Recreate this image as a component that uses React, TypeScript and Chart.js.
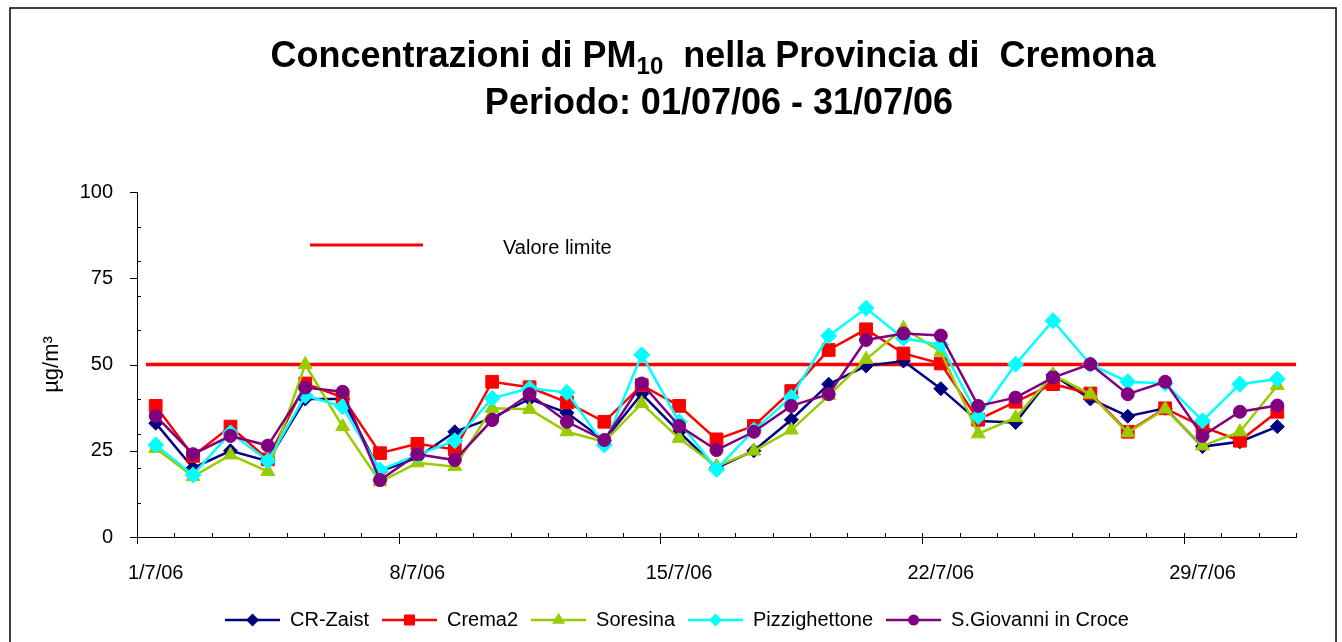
import React, { useEffect, useRef } from 'react';
import { Chart, registerables } from 'chart.js';

Chart.register(...registerables);

const FONT = '"Liberation Sans", Arial, Helvetica, sans-serif';

const DAYS = [
  '1/7/06', '2/7/06', '3/7/06', '4/7/06', '5/7/06', '6/7/06', '7/7/06',
  '8/7/06', '9/7/06', '10/7/06', '11/7/06', '12/7/06', '13/7/06', '14/7/06',
  '15/7/06', '16/7/06', '17/7/06', '18/7/06', '19/7/06', '20/7/06', '21/7/06',
  '22/7/06', '23/7/06', '24/7/06', '25/7/06', '26/7/06', '27/7/06', '28/7/06',
  '29/7/06', '30/7/06', '31/7/06',
];

const CR_ZAIST = [
  33, 20, 25, 22, 40, 40, 19, 23, 30.5, 34.5, 40, 36, 28, 41.5, 30.5, 20,
  25, 34, 44.3, 49.6, 51, 43, 33.6, 33.2, 47, 40, 35, 37.3, 26.2, 27.6, 32,
];
const CREMA2 = [
  38, 23.5, 32, 22.5, 44.5, 40.5, 24.3, 27, 25.4, 45, 43.4, 39, 33.4, 44, 38, 28.3,
  32.2, 42.3, 54.2, 60.2, 53.2, 50.3, 34, 39.2, 44.3, 41.6, 30.5, 37.3, 32, 27.9, 36.3,
];
const SORESINA = [
  25.7, 17.5, 23.8, 19, 50, 32, 16, 21.5, 20.4, 37.3, 37, 30.5, 27.6, 38.7, 28.6, 20.5,
  24.9, 31, 41, 51.5, 60.5, 53.7, 29.9, 34.6, 47, 41.4, 30.2, 37.1, 26.4, 30.5, 43.9,
];
const PIZZIGHETTONE = [
  26.7, 18, 30.2, 22.1, 41, 37.8, 19.4, 23.8, 27.9, 40.2, 43.1, 41.9, 26.7, 52.8, 33.4, 19.6,
  31, 40.5, 58.3, 66.3, 57.6, 55.7, 34.9, 50.1, 62.7, 50, 45, 44.5, 33.7, 44.3, 45.8,
];
const S_GIOVANNI = [
  35.1, 24, 29.3, 26.5, 43.3, 42.1, 16.5, 24, 22.3, 33.9, 41.4, 33.4, 28.1, 44.5, 32.2, 25.2,
  30.5, 38, 41.4, 57.1, 59, 58.4, 38, 40.4, 46.2, 50.1, 41.4, 45, 29.3, 36.3, 38.1,
];

const SERIES_NAMES = ['CR-Zaist', 'Crema2', 'Soresina', 'Pizzighettone', 'S.Giovanni in Croce'];
const SERIES_COLORS = ['#000080', '#FF0000', '#99CC00', '#00FFFF', '#800080'];
const SERIES_STYLES = ['rectRot', 'rect', 'triangle', 'rectRot', 'circle'];

const LIMIT = 50;
const Y_MIN = 0;
const Y_MAX = 100;
const Y_STEP = 25;
const Y_MINOR_STEP = 10;
const LABEL_EVERY = 7;

const TITLE_1A = 'Concentrazioni di PM';
const TITLE_1SUB = '10';
const TITLE_1B = '  nella Provincia di  Cremona';
const TITLE_2 = 'Periodo: 01/07/06 - 31/07/06';
const Y_LABEL = 'µg/m³';
const LIMIT_LABEL = 'Valore limite';

function makeIcon(color: string, style: string): HTMLCanvasElement {
  const c = document.createElement('canvas');
  c.width = 55;
  c.height = 16;
  const g = c.getContext('2d')!;
  const cx = 27.5;
  const cy = 8;
  g.strokeStyle = color;
  g.fillStyle = color;
  g.lineWidth = 2.5;
  g.beginPath();
  g.moveTo(0, cy);
  g.lineTo(55, cy);
  g.stroke();
  g.beginPath();
  if (style === 'rectRot') {
    const r = 6.5;
    g.moveTo(cx, cy - r);
    g.lineTo(cx + r, cy);
    g.lineTo(cx, cy + r);
    g.lineTo(cx - r, cy);
    g.closePath();
  } else if (style === 'rect') {
    g.rect(cx - 5.5, cy - 5.5, 11, 11);
  } else if (style === 'triangle') {
    const r = 7.5;
    g.moveTo(cx, cy - r);
    g.lineTo(cx + r * 0.866, cy + r / 2);
    g.lineTo(cx - r * 0.866, cy + r / 2);
    g.closePath();
  } else {
    g.arc(cx, cy, 5.5, 0, Math.PI * 2);
  }
  g.fill();
  return c;
}

const decorPlugin = {
  id: 'decor',
  beforeDatasetsDraw(chart: any) {
    const { ctx, chartArea } = chart;
    const ys = chart.scales.y;
    const y = ys.getPixelForValue(LIMIT);
    ctx.save();
    ctx.strokeStyle = '#FF0000';
    ctx.lineWidth = 3.5;
    ctx.beginPath();
    ctx.moveTo(chartArea.left + 9, y);
    ctx.lineTo(chartArea.right, y);
    ctx.stroke();
    ctx.restore();
  },
  afterDraw(chart: any) {
    const { ctx, chartArea } = chart;
    const xs = chart.scales.x;
    const ys = chart.scales.y;
    ctx.save();
    ctx.strokeStyle = '#000';
    ctx.lineWidth = 1.5;
    ctx.strokeRect(10, 8, 1326, 700);

    ctx.lineWidth = 1;
    ctx.beginPath();
    const step = xs.getPixelForValue(1) - xs.getPixelForValue(0);
    const x0 = xs.getPixelForValue(0) - step / 2;
    const bottom = chartArea.bottom;
    for (let i = 0; i <= DAYS.length; i++) {
      const px = Math.round(x0 + i * step) + 0.5;
      const major = i % LABEL_EVERY === 0;
      ctx.moveTo(px, bottom - 4);
      ctx.lineTo(px, bottom + (major ? 7 : 0));
    }
    const left = chartArea.left;
    for (let v = Y_MIN; v <= Y_MAX; v += Y_STEP) {
      const py = Math.round(ys.getPixelForValue(v)) + 0.5;
      ctx.moveTo(left - 7, py);
      ctx.lineTo(left, py);
    }
    for (let v = Y_MIN; v <= Y_MAX; v += Y_MINOR_STEP) {
      if (v % Y_STEP === 0) continue;
      const py = Math.round(ys.getPixelForValue(v)) + 0.5;
      ctx.moveTo(left, py);
      ctx.lineTo(left + 4, py);
    }
    ctx.stroke();

    ctx.fillStyle = '#000';
    ctx.textBaseline = 'alphabetic';
    ctx.textAlign = 'left';
    const big = `bold 36px ${FONT}`;
    const small = `bold 24px ${FONT}`;
    ctx.font = big;
    const wA = ctx.measureText(TITLE_1A).width;
    const wB = ctx.measureText(TITLE_1B).width;
    ctx.font = small;
    const wS = ctx.measureText(TITLE_1SUB).width;
    const total = wA + wS + wB;
    let tx = 713 - total / 2;
    ctx.font = big;
    ctx.fillText(TITLE_1A, tx, 67);
    tx += wA;
    ctx.font = small;
    ctx.fillText(TITLE_1SUB, tx, 74);
    tx += wS;
    ctx.font = big;
    ctx.fillText(TITLE_1B, tx, 67);
    ctx.textAlign = 'center';
    ctx.fillText(TITLE_2, 719, 114);

    ctx.strokeStyle = '#FF0000';
    ctx.lineWidth = 3;
    ctx.beginPath();
    ctx.moveTo(310, 245);
    ctx.lineTo(423, 245);
    ctx.stroke();
    ctx.font = `20px ${FONT}`;
    ctx.textAlign = 'left';
    ctx.textBaseline = 'middle';
    ctx.fillText(LIMIT_LABEL, 503, 248);
    ctx.restore();
  },
};

export default function App() {
  const ref = useRef<HTMLCanvasElement>(null);
  useEffect(() => {
    Chart.defaults.font.family = FONT;
    const seriesData = [CR_ZAIST, CREMA2, SORESINA, PIZZIGHETTONE, S_GIOVANNI];
    const icons = SERIES_NAMES.map((_, i) => makeIcon(SERIES_COLORS[i], SERIES_STYLES[i]));
    const datasets = SERIES_NAMES.map((name, i) => ({
      label: name,
      data: seriesData[i],
      borderColor: SERIES_COLORS[i],
      backgroundColor: SERIES_COLORS[i],
      pointBackgroundColor: SERIES_COLORS[i],
      pointBorderColor: SERIES_COLORS[i],
      pointStyle: SERIES_STYLES[i],
      pointRadius: [7, 9, 8, 8, 6.5][i],
      pointBorderWidth: 1,
      borderWidth: 2.5,
      tension: 0,
      order: SERIES_NAMES.length - i,
    }));
    const chart = new Chart(ref.current!, {
      type: 'line',
      data: { labels: DAYS, datasets },
      plugins: [decorPlugin],
      options: {
        responsive: false,
        animation: false,
        events: [],
        layout: { padding: { left: 58, right: 46, top: 192, bottom: 2 } },
        plugins: {
          title: { display: false },
          tooltip: { enabled: false },
          legend: {
            position: 'bottom',
            labels: {
              usePointStyle: true,
              pointStyleWidth: 55,
              padding: 13,
              color: '#000',
              font: { family: FONT, size: 20 },
              generateLabels: () =>
                SERIES_NAMES.map((name, i) => ({
                  text: name,
                  pointStyle: icons[i],
                  fillStyle: SERIES_COLORS[i],
                  strokeStyle: SERIES_COLORS[i],
                  lineWidth: 0,
                  hidden: false,
                  datasetIndex: i,
                })),
            },
          },
        },
        scales: {
          x: {
            type: 'category',
            offset: true,
            grid: { display: false, offset: true },
            border: { display: true, color: '#000', width: 1 },
            ticks: {
              autoSkip: false,
              maxRotation: 0,
              minRotation: 0,
              padding: 16,
              color: '#000',
              font: { family: FONT, size: 20 },
              callback: (_v: any, i: number) => (i % LABEL_EVERY === 0 ? DAYS[i] : ''),
            },
            afterFit: (s: any) => {
              s.height = 60;
            },
          },
          y: {
            min: Y_MIN,
            max: Y_MAX,
            grid: { display: false },
            border: { display: true, color: '#000', width: 1 },
            ticks: {
              stepSize: Y_STEP,
              padding: 16,
              color: '#000',
              font: { family: FONT, size: 20 },
            },
            title: {
              display: true,
              text: Y_LABEL,
              color: '#000',
              font: { family: FONT, size: 22 },
              padding: { top: -19, bottom: 0 },
            },
            afterFit: (s: any) => {
              s.width = 79;
            },
          },
        },
      },
    } as any);
    return () => chart.destroy();
  }, []);
  return (
    <div
      style={{
        position: 'fixed',
        left: 0,
        top: 0,
        width: 1342,
        height: 642,
        background: '#fff',
        overflow: 'hidden',
      }}
    >
      <canvas ref={ref} width={1342} height={642} style={{ display: 'block' }} />
    </div>
  );
}
